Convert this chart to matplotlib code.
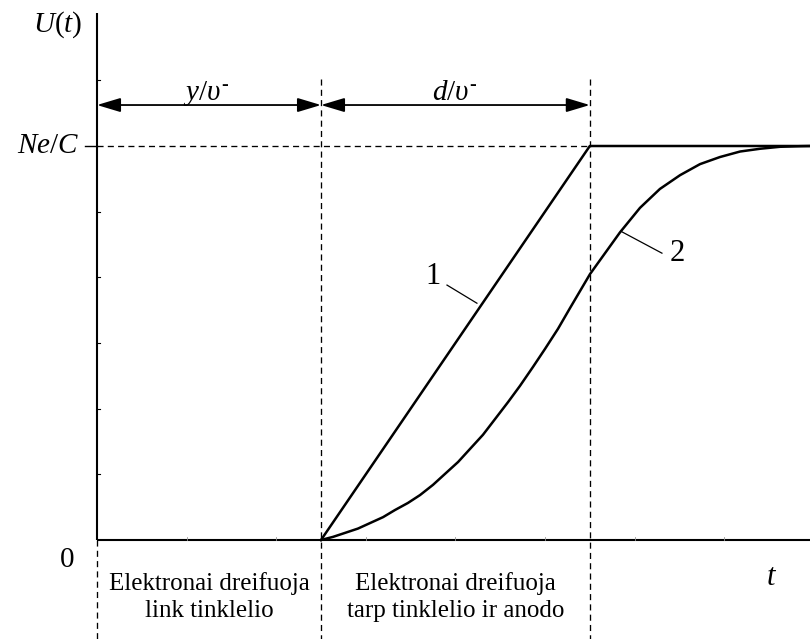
import numpy as np
import matplotlib as mpl
mpl.use('agg')
import matplotlib.pyplot as plt
from matplotlib.patches import ArrowStyle

plt.rcParams['font.family'] = 'Liberation Serif'
plt.rcParams['mathtext.fontset'] = 'custom'
plt.rcParams['mathtext.rm'] = 'Liberation Serif'
plt.rcParams['mathtext.it'] = 'Liberation Serif:italic'

# time in units of y/v, signal in units of Ne/C
t_grid = 1.0          # electrons reach the grid
t_anode = 2.2         # electrons reach the anode
t_end = 3.183
u_max = 1.0

# curve 1: ideal (linear) rise, curve 2: real detector signal
curve1_t = [t_grid, t_anode, t_end]
curve1_u = [0.0, u_max, u_max]
curve2_t = [1.000, 1.054, 1.107, 1.165, 1.219, 1.277, 1.330, 1.388, 1.442, 1.500,
            1.554, 1.612, 1.665, 1.723, 1.777, 1.835, 1.888, 1.946, 2.000, 2.058,
            2.112, 2.201, 2.268, 2.335, 2.424, 2.513, 2.603, 2.692, 2.781, 2.871,
            2.960, 3.049, 3.138, 3.183]
curve2_u = [0.0, 0.008, 0.018, 0.029, 0.043, 0.058, 0.076, 0.094, 0.114, 0.140,
            0.168, 0.198, 0.231, 0.267, 0.307, 0.350, 0.391, 0.439, 0.485, 0.536,
            0.589, 0.675, 0.728, 0.781, 0.843, 0.891, 0.926, 0.954, 0.972, 0.986,
            0.993, 0.998, 0.9995, 1.0]

y_ticks = [1/6, 2/6, 3/6, 4/6, 5/6, 7/6]
x_ticks = [0.4, 0.8, 1.2, 1.6, 2.0, 2.4, 2.8]

region_labels = ['Elektronai dreifuoja\nlink tinklelio',
                 'Elektronai dreifuoja\ntarp tinklelio ir anodo']

fig = plt.figure(figsize=(8.1, 6.39), dpi=100)
ax = fig.add_axes([0, 0, 1, 1])
ax.set_xlim(-97/224, t_end)
ax.set_ylim(-99/394, 540/394)
ax.axis('off')

k = 'black'
dash = dict(color=k, lw=0.95, dashes=(4.6, 3.2))

# axes
ax.plot([0, 0], [0, 1.338], color=k, lw=1.5, solid_capstyle='butt')
ax.plot([0, t_end], [0, 0], color=k, lw=1.5, solid_capstyle='butt')
ax.plot([0, 0], [0, -0.26], **dash)
ax.plot([-0.054, 0], [u_max, u_max], color=k, lw=1.0)
for yt in y_ticks:
    ax.plot([0, 0.012], [yt, yt], color=k, lw=0.8)
for xt in x_ticks:
    ax.plot([xt, xt], [0, 0.008], color='0.6', lw=0.6)

# drift boundaries and Ne/C level
for tx in [t_grid, t_anode]:
    ax.plot([tx, tx], [1.17, -0.26], **dash)
ax.plot([0, t_anode], [u_max, u_max], **dash)

# drift time arrows
astyle = ArrowStyle('<|-|>', head_length=0.4, head_width=0.12)
for a, b in [(0, t_grid), (t_grid, t_anode)]:
    ax.annotate('', xy=(b, 1.104), xytext=(a, 1.104),
                arrowprops=dict(arrowstyle=astyle, mutation_scale=36, color=k,
                                lw=1.3, shrinkA=0, shrinkB=0))
ax.text(0.487, 1.117, r'$y/\upsilon^{\text{-}}$', fontsize=21, ha='center', va='baseline')
ax.text(1.598, 1.117, r'$d/\upsilon^{\text{-}}$', fontsize=21, ha='center', va='baseline')

# signal curves
ax.plot(curve1_t, curve1_u, color=k, lw=1.8)
ax.plot(curve2_t, curve2_u, color=k, lw=1.8, solid_joinstyle='round')

ax.plot([1.5625, 1.696], [0.647, 0.601], color=k, lw=0.9)
ax.text(1.5, 0.668, '1', fontsize=22, ha='center', va='center')
ax.plot([2.344, 2.522], [0.782, 0.728], color=k, lw=0.9)
ax.text(2.589, 0.728, '2', fontsize=22, ha='center', va='center')

# axis labels
ax.text(-0.174, 1.307, r'$U(t)$', fontsize=21, ha='center', va='center')
ax.text(-0.08, u_max, r'$Ne/C$', fontsize=21, ha='right', va='center')
ax.text(-0.134, -0.051, '0', fontsize=21, ha='center', va='center')
ax.text(3.013, -0.096, r'$t$', fontsize=22, ha='center', va='center')

ax.text(0.5, -0.145, region_labels[0], fontsize=18, ha='center', va='center',
        linespacing=1.25)
ax.text(1.6, -0.145, region_labels[1], fontsize=18, ha='center', va='center',
        linespacing=1.25)

fig.savefig('out.png', dpi=100)
